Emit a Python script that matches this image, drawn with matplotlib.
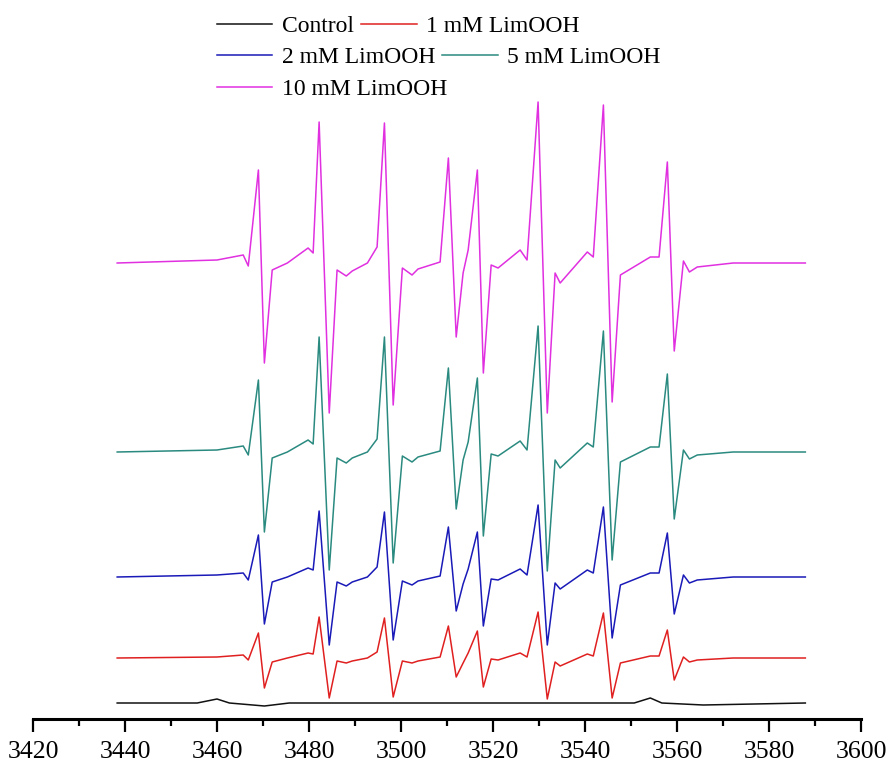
import matplotlib
matplotlib.use('Agg')
import matplotlib.pyplot as plt
from matplotlib.ticker import MultipleLocator

plt.rcParams['font.family'] = ['Liberation Serif', 'DejaVu Serif']

# field positions (G) of the traced vertices shared by the LimOOH spectra
field = [3438.3, 3460.0, 3465.7, 3466.8, 3469.0, 3470.3, 3472.0, 3475.3, 3479.8, 3480.9,
         3482.2, 3484.4, 3486.1, 3488.1, 3489.4, 3492.7, 3494.8, 3496.4, 3498.3, 3500.3,
         3502.4, 3503.7, 3508.5, 3510.3, 3512.0, 3513.5, 3514.6, 3516.6, 3517.9, 3519.6,
         3521.1, 3525.9, 3527.4, 3529.8, 3531.8, 3533.5, 3534.6, 3540.5, 3541.8, 3544.0,
         3545.9, 3547.7, 3554.2, 3556.1, 3557.9, 3559.4, 3561.4, 3562.7, 3564.4, 3572.2,
         3587.9]

mm1 = [0, 1, 3, -2, 25, -30, -4, 0, 5, 4, 41, -40, -3, -5, -3, 0, 6, 40, -39, -3,
       -5, -3, 1, 32, -19, -5, 5, 27, -29, -1, -2, 5, 1, 46, -41, -4, -8, 4, 2, 45,
       -40, -5, 2, 2, 28, -22, 1, -4, -2, 0, 0]
mm2 = [0, 2, 4, -3, 42, -47, -5, 0, 9, 7, 66, -68, -5, -9, -5, 0, 10, 65, -63, -4,
       -8, -4, 1, 50, -34, -7, 8, 45, -49, -2, -3, 8, 2, 72, -68, -6, -12, 7, 4, 70,
       -61, -8, 4, 4, 44, -37, 2, -6, -3, 0, 0]
mm5 = [0, 2, 6, -3, 72, -80, -6, 0, 12, 8, 115, -118, -6, -11, -6, 0, 13, 115, -111, -4,
       -10, -5, 1, 84, -57, -8, 10, 74, -84, -2, -4, 11, 2, 126, -119, -8, -16, 9, 5, 121,
       -108, -10, 5, 5, 78, -67, 2, -7, -3, 0, 0]
mm10 = [0, 3, 8, -3, 93, -100, -7, 0, 15, 10, 141, -150, -7, -13, -8, 0, 16, 140, -142, -5,
        -12, -6, 1, 105, -74, -10, 13, 93, -110, -2, -5, 13, 3, 161, -150, -10, -20, 11, 6, 158,
        -139, -12, 6, 6, 101, -88, 2, -9, -4, 0, 0]

# control trace
ctrl_field = [3438.3, 3455.7, 3460.0, 3462.7, 3470.3, 3475.7, 3550.7, 3554.2, 3556.7, 3565.7, 3587.9]
ctrl = [0, 0, 4, 0, -3, 0, 0, 5, 0, -2, 0]

labels = ['Control', '1 mM LimOOH', '2 mM LimOOH', '5 mM LimOOH', '10 mM LimOOH']
offsets = [0, 45, 126, 251, 440]
colors = ['#111111', '#e02020', '#1a1ab8', '#2a8a80', '#e030e0']

fig = plt.figure(figsize=(8.89, 7.65), dpi=100)
ax = fig.add_axes([33/889, 46/765, 828/889, 719/765])

lines = []
series = [(ctrl_field, ctrl), (field, mm1), (field, mm2), (field, mm5), (field, mm10)]
for (xs, ys), off, c, lab in zip(series, offsets, colors, labels):
    ln, = ax.plot(xs, [v + off for v in ys], color=c, lw=1.1, label=lab)
    lines.append(ln)

ax.set_xlim(3420, 3600)
ax.set_ylim(-16, 703)
for s in ['left', 'top', 'right']:
    ax.spines[s].set_visible(False)
ax.spines['bottom'].set_linewidth(2.2)
ax.set_yticks([])
ax.xaxis.set_major_locator(MultipleLocator(20))
ax.xaxis.set_minor_locator(MultipleLocator(10))
ax.tick_params(axis='x', which='major', direction='out', length=9.5, width=1.6, labelsize=18.5, pad=6)
ax.tick_params(axis='x', which='minor', direction='out', length=5, width=1.6)

# legend rows laid out like the original (flow layout)
rows = [([0, 1], 26), ([2, 3], 57), ([4], 89)]
for idx, ypx in rows:
    leg = fig.legend([lines[i] for i in idx], [labels[i] for i in idx],
                     loc='center left', bbox_to_anchor=(217/889, 1 - ypx/765),
                     ncol=len(idx), frameon=False, fontsize=17, borderpad=0,
                     handlelength=2.35, handletextpad=0.4, columnspacing=0.3,
                     borderaxespad=0)

fig.savefig('out.png', dpi=100)
